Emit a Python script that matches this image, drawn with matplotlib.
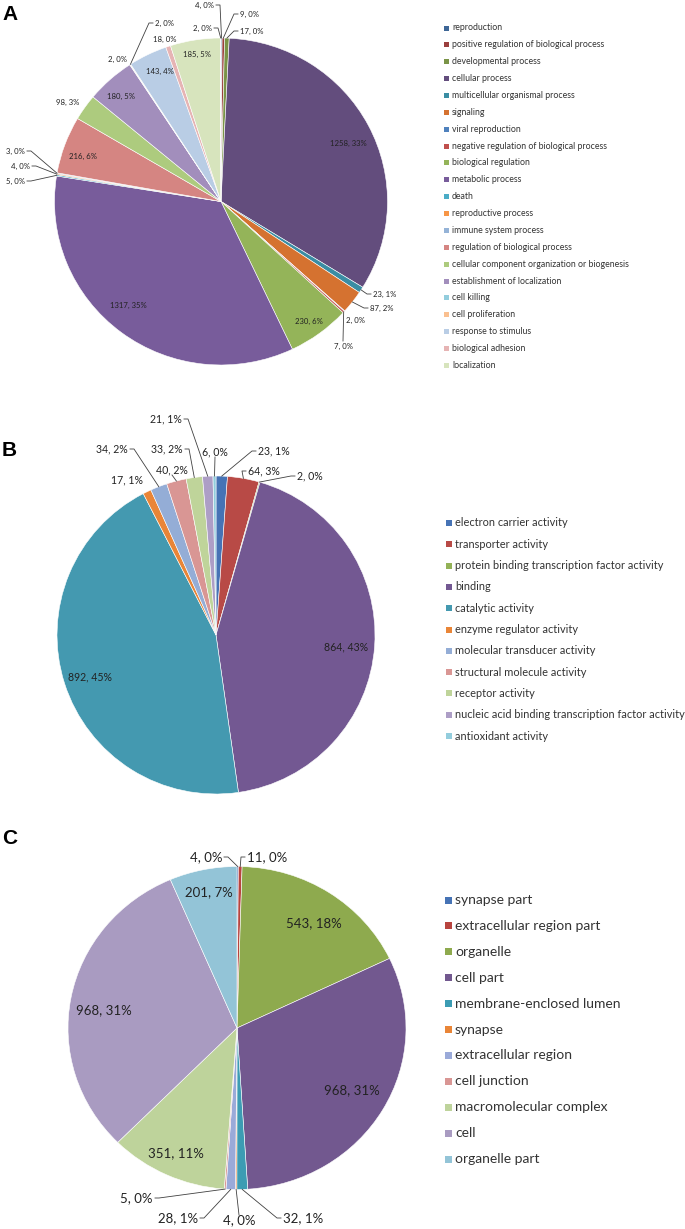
import numpy as np
import matplotlib
matplotlib.use("Agg")
import matplotlib.pyplot as plt
from matplotlib.patches import Rectangle

plt.rcParams['font.family'] = ['Lato', 'DejaVu Sans']

# ---- data ----
# A: biological process (last slice has no legend entry in the original)
bp_names = ["reproduction", "positive regulation of biological process",
            "developmental process", "cellular process",
            "multicellular organismal process", "signaling", "viral reproduction",
            "negative regulation of biological process", "biological regulation",
            "metabolic process", "death", "reproductive process",
            "immune system process", "regulation of biological process",
            "cellular component organization or biogenesis",
            "establishment of localization", "cell killing", "cell proliferation",
            "response to stimulus", "biological adhesion", "localization"]
bp_values = [4, 9, 17, 1258, 23, 87, 2, 7, 230, 1317, 5, 4, 3, 216, 98, 180,
             2, 2, 143, 18, 185, 2]
bp_pct = [0, 0, 0, 33, 1, 2, 0, 0, 6, 35, 0, 0, 0, 6, 3, 5, 0, 0, 4, 0, 5, 0]

# B: molecular function
mf_names = ["electron carrier activity", "transporter activity",
            "protein binding transcription factor activity", "binding",
            "catalytic activity", "enzyme regulator activity",
            "molecular transducer activity", "structural molecule activity",
            "receptor activity", "nucleic acid binding transcription factor activity",
            "antioxidant activity"]
mf_values = [23, 64, 2, 864, 892, 17, 34, 40, 33, 21, 6]
mf_pct = [1, 3, 0, 43, 45, 1, 2, 2, 2, 1, 0]

# C: cellular component
cc_names = ["synapse part", "extracellular region part", "organelle", "cell part",
            "membrane-enclosed lumen", "synapse", "extracellular region",
            "cell junction", "macromolecular complex", "cell", "organelle part"]
cc_values = [4, 11, 543, 968, 32, 4, 28, 5, 351, 968, 201]
cc_pct = [0, 0, 18, 31, 1, 0, 1, 0, 11, 31, 7]

# ---- colours ----
bp_colors = ['#3E6696', '#9A3F3D', '#7A9447', '#634D7D', '#3A8DA3', '#D57230',
             '#4F81BD', '#C0504D', '#94B459', '#785C9B', '#4BACC6', '#F79646',
             '#95B3D7', '#D58582', '#ADCB7E', '#A28EBC', '#93CDDD', '#FAC090',
             '#B9CDE5', '#E6B4B4', '#D7E4BD', '#CCC1DA']
mf_colors = ['#4673B5', '#B84A46', '#93B257', '#735892', '#4499B0', '#E98537',
             '#94ADD6', '#D99694', '#BFD49A', '#AD9EC6', '#93CDDD']
cc_colors = ['#4673B5', '#B8443F', '#8EAA4E', '#72588F', '#3C9CB3', '#E98537',
             '#9AAAD9', '#D99694', '#BED39B', '#A99BC1', '#93C4D7']

# ---- layout (pixels) ----
W, H = 685, 1229

# label placement: (x, y, leader side) ; side r/l = leader leaves text right/left,
# t/b = leader leaves from top/bottom, None = no leader
bp_lab = [(214, 5, 'r'), (240, 14, 'l'), (240, 31, 'l'), (348, 143, None),
          (373, 294, 'l'), (370, 308, 'l'), (355, 320, None), (343, 346, 't'),
          (309, 321, None), (128, 305, None), (25, 181, 'r'), (30, 166, 'r'),
          (25, 151, 'r'), (83, 156, None), (68, 102, None), (121, 96, None),
          (118, 59, None), (155, 23, 'l'), (160, 71, None), (165, 39, None),
          (197, 54, None), (212, 28, 'r')]
mf_lab = [(258, 451, 'l'), (248, 471, 'l'), (297, 476, 'l'), (346, 647, None),
          (90, 677, None), (127, 480, None), (128, 449, 'r'), (172, 470, 'b'),
          (183, 449, 'r'), (182, 419, 'r'), (215, 452, 'b')]
cc_lab = [(222, 857, 'r'), (247, 857, 'l'), (314, 923, None), (352, 1090, None),
          (283, 1218, 'l'), (239, 1220, 't'), (198, 1218, 'r'), (153, 1198, 'r'),
          (176, 1153, None), (104, 1010, None), (209, 892, None)]

fig = plt.figure(figsize=(W / 100, H / 100), dpi=100)


def draw_pie(values, pct, colors, geom, layout, fs):
    cx, cy, rx, ry = geom
    ax = fig.add_axes([(cx - rx) / W, 1 - (cy + ry) / H, 2 * rx / W, 2 * ry / H])
    wedges, _ = ax.pie(values, colors=colors, startangle=90, counterclock=False,
                       wedgeprops=dict(edgecolor='white', linewidth=0.4))
    ax.set_aspect('auto')
    ax.set_xlim(-1, 1)
    ax.set_ylim(-1, 1)
    ax.axis('off')

    def to_data(x, y):
        return (x - cx) / rx, (cy - y) / ry

    for w, v, p, (x, y, side) in zip(wedges, values, pct, layout):
        ha = {'r': 'right', 'l': 'left'}.get(side, 'center')
        tx, ty = to_data(x, y)
        ax.text(tx, ty, f"{v}, {p}%", ha=ha, va='center', fontsize=fs,
                color='#222222')
        if side is None:
            continue
        mid = np.deg2rad((w.theta1 + w.theta2) / 2)
        if side == 'r':
            pts = [(x + 2, y), (x + 6, y)]
        elif side == 'l':
            pts = [(x - 2, y), (x - 6, y)]
        elif side == 't':
            pts = [(x, y - 5)]
        else:
            pts = [(x, y + 5)]
        xs = [to_data(*q)[0] for q in pts] + [np.cos(mid)]
        ys = [to_data(*q)[1] for q in pts] + [np.sin(mid)]
        ax.plot(xs, ys, color='#404040', lw=0.6, clip_on=False)
    return wedges


def draw_legend(names, wedges, xbox, y0, step, box, fs):
    for i, (name, w) in enumerate(zip(names, wedges)):
        y = y0 + i * step
        fig.add_artist(Rectangle((xbox / W, 1 - (y + box / 2) / H), box / W, box / H,
                                 transform=fig.transFigure,
                                 facecolor=w.get_facecolor(), edgecolor='none'))
        fig.text((xbox + box + 3) / W, 1 - y / H, name, fontsize=fs,
                 va='center', ha='left', color='#333333')


wa = draw_pie(bp_values, bp_pct, bp_colors, (221, 201.5, 166.5, 163.5), bp_lab, 5.6)
wb = draw_pie(mf_values, mf_pct, mf_colors, (216, 635, 159, 159), mf_lab, 7.6)
wc = draw_pie(cc_values, cc_pct, cc_colors, (237, 1028, 169, 161.5), cc_lab, 9.5)

draw_legend(bp_names, wa, 444, 28, 16.87, 5, 6.3)
draw_legend(mf_names, wb, 446, 523, 21.3, 6, 7.9)
draw_legend(cc_names, wc, 445, 900, 25.9, 7, 10)

for letter, y in [("A", 15), ("B", 450), ("C", 838)]:
    fig.text(2 / W, 1 - y / H, letter, fontsize=15, fontweight='bold',
             family='Liberation Sans', va='center', ha='left')

fig.savefig("out.png", dpi=100)
